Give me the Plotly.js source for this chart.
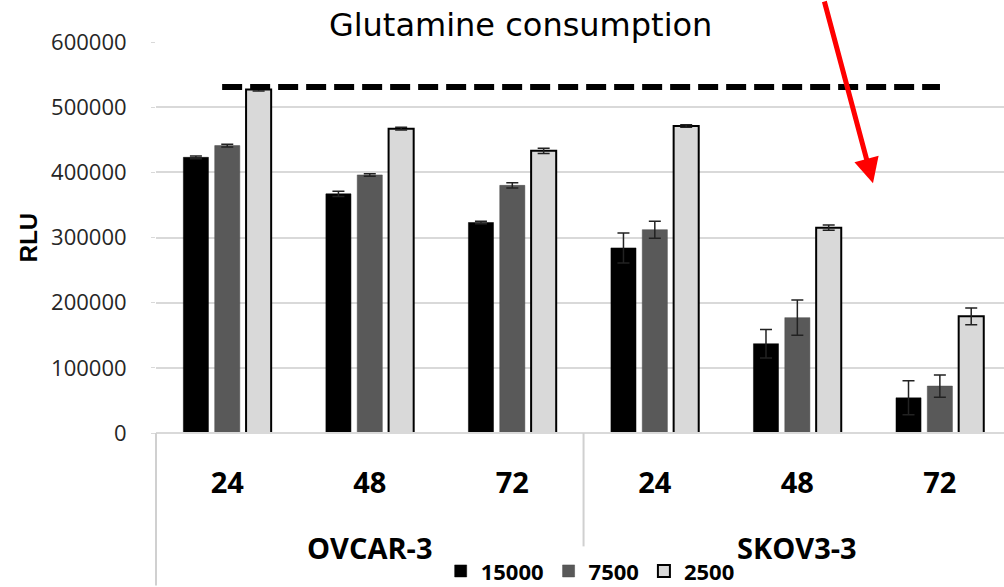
<!DOCTYPE html>
<html>
<head>
<meta charset="utf-8">
<script src="https://cdn.plot.ly/plotly-3.0.1.min.js"></script>
<style>html,body{margin:0;padding:0;background:#fff;}#chart{width:1004px;height:587px;}</style>
</head>
<body>
<div id="chart"></div>
<script>
// ---- data ----
var cellLines = ["OVCAR-3","OVCAR-3","OVCAR-3","SKOV3-3","SKOV3-3","SKOV3-3"];
var hours = ["24","48","72","24","48","72"];
var groupNames = ["OVCAR-3","SKOV3-3"];
var seriesNames = ["15000","7500","2500"];
var rlu15000 = [423000, 367000, 323000, 284000, 137000, 54000];
var err15000 = [2000, 4000, 2000, 23000, 22000, 26000];
var rlu7500  = [441000, 396000, 380000, 312000, 177000, 72000];
var err7500  = [2000, 2000, 4000, 13000, 27000, 17000];
var rlu2500  = [527000, 467000, 433000, 471000, 315000, 179000];
var err2500  = [2000, 2000, 4000, 2000, 4000, 13000];
var referenceLevel = 531000;
var yTicks = [0, 100000, 200000, 300000, 400000, 500000, 600000];

var cats = cellLines.map(function(c, i){ return c + " " + hours[i]; });
var values = [rlu15000, rlu7500, rlu2500];
var errors = [err15000, err7500, err2500];
var fills = ["#000000", "#595959", "#d9d9d9"];
var lines = ["#000000", "#4a4a4a", "#000000"];
var lineW = [0.5, 0.5, 2];

var traces = seriesNames.map(function(n, i){
  return {
    type: "bar",
    name: n,
    x: cats,
    y: values[i],
    marker: {color: fills[i], line: {color: lines[i], width: lineW[i]}},
    error_y: {type: "data", array: errors[i], visible: true, color: "#222", thickness: 1.5, width: 6}
  };
});

// group label annotations at the centre category of each group
var groupAnnotations = groupNames.map(function(g){
  var idx = cellLines.indexOf(g);
  var last = cellLines.lastIndexOf(g);
  return {
    xref: "x", yref: "paper", x: cats[Math.round((idx + last) / 2)], y: -0.294,
    xanchor: "center", yanchor: "middle", showarrow: false, text: g,
    font: {family: "Open Sans", size: 29, color: "#000", weight: "bold"}
  };
});

var layout = {
  width: 1004, height: 587,
  margin: {l: 156, r: 0, t: 42, b: 154},
  paper_bgcolor: "#fff", plot_bgcolor: "#fff",
  barmode: "group", bargap: 0.34, bargroupgap: 0.2,
  showlegend: true,
  title: {
    text: "Glutamine consumption",
    font: {family: "DejaVu Sans", size: 32, color: "#000"},
    xref: "paper", x: 0.43, xanchor: "center",
    yref: "container", y: 0.957, yanchor: "middle"
  },
  xaxis: {
    type: "category",
    range: [-0.5, 5.45],
    tickvals: cats,
    ticktext: hours,
    showgrid: false,
    showline: false,
    ticks: "",
    tickfont: {family: "Open Sans", size: 29, color: "#000", weight: "bold"},
    ticklabelstandoff: 30
  },
  yaxis: {
    range: [0, 600000],
    tickvals: yTicks,
    ticktext: yTicks.map(String),
    showgrid: true, gridcolor: "#d9d9d9", gridwidth: 2,
    zeroline: false,
    showline: false,
    ticks: "outside", ticklen: 4, tickcolor: "#d9d9d9", tickwidth: 1,
    ticklabelstandoff: 20,
    tickfont: {family: "Open Sans", size: 22, color: "#262626"},
    title: {text: "RLU", standoff: 6, font: {family: "Liberation Sans", size: 24, color: "#000", weight: "bold"}}
  },
  legend: {
    orientation: "h",
    xref: "paper", x: 0.512, xanchor: "center",
    yref: "container", y: 0.027, yanchor: "middle",
    font: {family: "Open Sans", size: 22, color: "#000", weight: "bold"},
    itemwidth: 30,
    traceorder: "normal"
  },
  shapes: [
    {type: "line", xref: "paper", yref: "y", x0: 0.078, x1: 0.9245, y0: referenceLevel, y1: referenceLevel,
     line: {color: "#000", width: 6, dash: "20px,8px"}},
    {type: "line", xref: "paper", yref: "paper", x0: 0, x1: 1, y0: 0, y1: 0,
     line: {color: "#d9d9d9", width: 2}},
    {type: "line", xref: "paper", yref: "paper", x0: 0, x1: 0, y0: 0, y1: -0.39,
     line: {color: "#d0d0d0", width: 2}},
    {type: "line", xref: "x", yref: "paper", x0: 2.5, x1: 2.5, y0: 0, y1: -0.29,
     line: {color: "#d0d0d0", width: 2}}
  ],
  annotations: groupAnnotations.concat([
    {xref: "paper", yref: "paper", x: 0.8455, y: 0.639, text: "", showarrow: true,
     axref: "pixel", ayref: "pixel", ax: -49, ay: -187,
     arrowcolor: "#ff0000", arrowwidth: 5, arrowhead: 2, arrowsize: 1, standoff: 0}
  ])
};

Plotly.newPlot("chart", traces, layout, {displayModeBar: false, staticPlot: true});
</script>
</body>
</html>
